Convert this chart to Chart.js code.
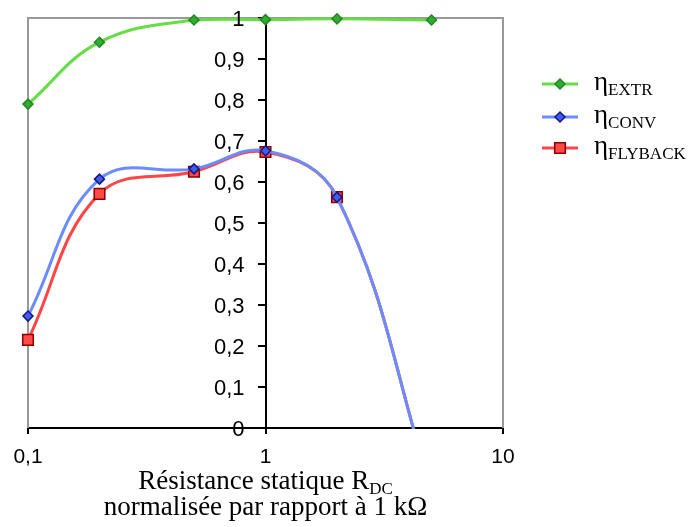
<!DOCTYPE html>
<html lang="fr">
<head>
<meta charset="utf-8">
<title>Rendement en fonction de R_DC</title>
<script src="https://cdn.jsdelivr.net/npm/chart.js@4.4.1/dist/chart.umd.min.js"></script>
<style>
  html, body { margin: 0; padding: 0; background: #fff; }
  #wrap { position: relative; width: 692px; height: 527px; }
</style>
</head>
<body>
<div id="wrap"><canvas id="effChart" width="692" height="527"></canvas></div>
<script>
// Résistance statique normalisée (axe log) et rendements
const rValues = [0.1, 0.2, 0.5, 1, 2, 5];
const etaExtr = [0.79, 0.941, 0.995, 0.996, 0.998, 0.995];
const etaConv = [0.273, 0.607, 0.632, 0.676, 0.563, -0.15];
const etaFlyback = [0.215, 0.571, 0.625, 0.673, 0.563, -0.15];

const xTicks = [0.1, 1, 10];
const xTickLabels = ['0,1', '1', '10'];
const yTickLabels = ['0', '0,1', '0,2', '0,3', '0,4', '0,5', '0,6', '0,7', '0,8', '0,9', '1'];

const seriesNames = ['EXTR', 'CONV', 'FLYBACK'];
const titleLine1 = 'Résistance statique R';
const titleSub1 = 'DC';
const titleLine2 = 'normalisée par rapport à 1 kΩ';

const SERIF = '"Liberation Serif", "Times New Roman", serif';
const SANS = '"Liberation Sans", Arial, sans-serif';

function toPoints(values) {
  return rValues.map((r, i) => ({ x: r, y: values[i] }));
}

// cache les marqueurs en dehors du graphe (valeurs négatives)
const hideNegative = (size) => (ctx) => (ctx.raw && ctx.raw.y < 0 ? 0 : size);

const styles = [
  { line: '#66dd44', fill: '#33aa33', border: '#1f8a1f', point: 'rectRot', radius: 5 },
  { line: '#6a8cff', fill: '#3f5fe6', border: '#16168a', point: 'rectRot', radius: 5 },
  { line: '#ff4646', fill: '#ff4a4a', border: '#8a0000', point: 'rect', radius: 7.5 }
];

const datasets = [etaExtr, etaConv, etaFlyback].map((values, i) => ({
  label: seriesNames[i],
  data: toPoints(values),
  borderColor: styles[i].line,
  borderWidth: 3,
  tension: 0.4,
  pointStyle: styles[i].point,
  pointRadius: hideNegative(styles[i].radius),
  pointBackgroundColor: styles[i].fill,
  pointBorderColor: styles[i].border,
  pointBorderWidth: 1.5,
  clip: { left: 10, top: 10, right: 10, bottom: 1 }
}));

// cadre gris (haut, gauche, droite) + graduations de l'axe vertical
const framePlugin = {
  id: 'frame',
  beforeDatasetsDraw(chart) {
    const { ctx, chartArea: a, scales } = chart;
    ctx.save();
    ctx.strokeStyle = '#999';
    ctx.lineWidth = 2;
    ctx.beginPath();
    ctx.moveTo(a.left, a.bottom);
    ctx.lineTo(a.left, a.top);
    ctx.lineTo(a.right, a.top);
    ctx.lineTo(a.right, a.bottom);
    ctx.stroke();

    const axisX = Math.round(scales.x.getPixelForValue(1));
    ctx.strokeStyle = '#000';
    ctx.beginPath();
    scales.y.ticks.forEach((t) => {
      const y = Math.round(scales.y.getPixelForValue(t.value));
      ctx.moveTo(axisX - 8, y);
      ctx.lineTo(axisX, y);
    });
    ctx.stroke();
    ctx.restore();
  }
};

// texte avec indice : "R" + "DC", "η" + "EXTR" ...
function drawWithSub(ctx, main, sub, x, y, mainSize, subSize, subDrop, align) {
  ctx.font = `${mainSize}px ${SERIF}`;
  const w1 = ctx.measureText(main).width;
  ctx.font = `${subSize}px ${SERIF}`;
  const w2 = ctx.measureText(sub).width;
  let start = x;
  if (align === 'center') start = x - (w1 + w2) / 2;
  ctx.textAlign = 'left';
  ctx.textBaseline = 'alphabetic';
  ctx.font = `${mainSize}px ${SERIF}`;
  ctx.fillText(main, start, y);
  ctx.font = `${subSize}px ${SERIF}`;
  ctx.fillText(sub, start + w1, y + subDrop);
}

const textPlugin = {
  id: 'texts',
  afterDraw(chart) {
    const { ctx, chartArea: a, scales } = chart;
    const cx = (a.left + a.right) / 2;
    ctx.save();
    ctx.fillStyle = '#000';

    // étiquettes de l'axe vertical, à gauche de l'axe placé en x = 1
    const axisX = scales.x.getPixelForValue(1);
    ctx.font = `22px ${SANS}`;
    ctx.textAlign = 'right';
    ctx.textBaseline = 'middle';
    scales.y.ticks.forEach((t, i) => {
      ctx.fillText(yTickLabels[i], axisX - 21, scales.y.getPixelForValue(t.value) + 2);
    });

    drawWithSub(ctx, titleLine1, titleSub1, cx, 489, 27, 17, 5, 'center');
    ctx.font = `27px ${SERIF}`;
    ctx.textAlign = 'center';
    ctx.textBaseline = 'alphabetic';
    ctx.fillText(titleLine2, cx, 515);

    // légende
    const rows = [84, 117, 148];
    datasets.forEach((ds, i) => {
      const y = rows[i];
      const st = styles[i];
      ctx.strokeStyle = st.line;
      ctx.lineWidth = 3;
      ctx.beginPath();
      ctx.moveTo(542, y);
      ctx.lineTo(578, y);
      ctx.stroke();
      ctx.fillStyle = st.fill;
      ctx.strokeStyle = st.border;
      ctx.lineWidth = 1.5;
      Chart.helpers.drawPoint(ctx, { pointStyle: st.point, radius: st.radius, rotation: 0, borderWidth: 1.5 }, 560, y);
      ctx.fillStyle = '#000';
      drawWithSub(ctx, 'η', seriesNames[i], 594, y + 6, 27, 17, 5, 'left');
    });
    ctx.restore();
  }
};

new Chart(document.getElementById('effChart'), {
  type: 'line',
  data: { datasets },
  plugins: [framePlugin, textPlugin],
  options: {
    responsive: false,
    animation: false,
    layout: { padding: { top: 18, left: 28, right: 189, bottom: 0 } },
    plugins: {
      legend: { display: false },
      tooltip: { enabled: false }
    },
    scales: {
      x: {
        type: 'logarithmic',
        position: 'bottom',
        min: 0.1,
        max: 10,
        afterBuildTicks: (scale) => { scale.ticks = xTicks.map(v => ({ value: v })); },
        afterFit: (scale) => { scale.height = 99; },
        grid: { drawOnChartArea: false, drawTicks: true, tickLength: 6, color: '#000', lineWidth: 2 },
        border: { color: '#000', width: 2 },
        ticks: {
          color: '#000',
          padding: 11,
          maxRotation: 0,
          font: { family: SANS, size: 21 },
          callback: (value, index) => xTickLabels[index]
        }
      },
      y: {
        type: 'linear',
        position: { x: 1 },
        min: 0,
        max: 1,
        grid: { drawOnChartArea: false, drawTicks: false },
        border: { color: '#000', width: 2 },
        ticks: {
          stepSize: 0.1,
          display: false
        }
      }
    }
  }
});
</script>
</body>
</html>
